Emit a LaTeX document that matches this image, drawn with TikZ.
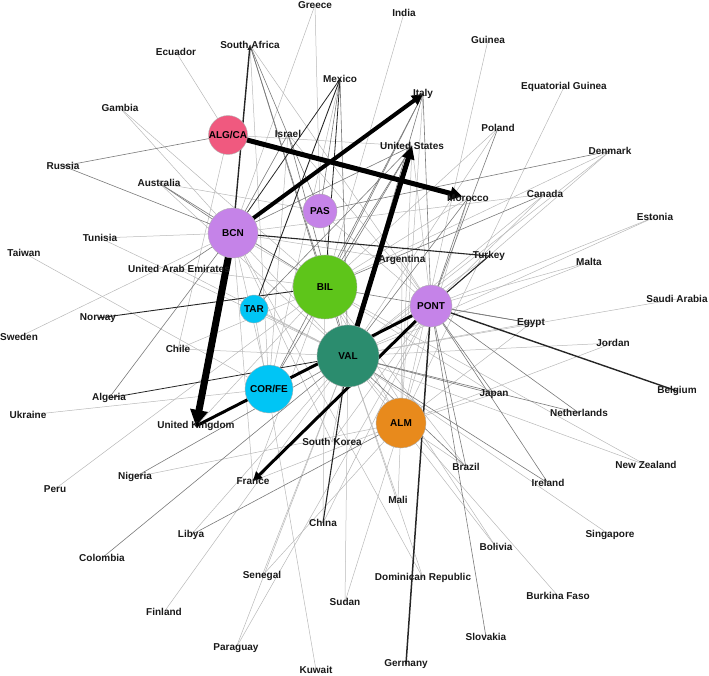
\documentclass[tikz,border=0pt]{standalone}
\usepackage{fontspec}
\setmainfont{Liberation Sans}
\usetikzlibrary{arrows.meta,backgrounds}
\definecolor{cAlg}{HTML}{F0597F}
\definecolor{cBcn}{HTML}{C583E8}
\definecolor{cBil}{HTML}{5EC51A}
\definecolor{cTar}{HTML}{00C5F5}
\definecolor{cVal}{HTML}{2B8C6E}
\definecolor{cAlm}{HTML}{E88A1C}
\tikzset{
  port/.style={circle, draw=gray!60, line width=0.4pt, inner sep=0pt},
  ctry/.style={inner sep=0pt, text=black!90},
  lt/.style={draw=black!28, line width=0.5pt},
  md/.style={draw=black!52, line width=0.6pt},
  dk/.style={draw=black!85, line width=1.1pt},
  heavy/.style={draw=black}
}
\begin{document}
\begin{tikzpicture}[x=1pt,y=-1pt,every node/.append style={font=\fontsize{10}{12}\selectfont\bfseries}]
\useasboundingbox (0,0) rectangle (709,675);
% countries
\node[ctry] (greece) at (315,5) {Greece};
\node[ctry] (india) at (404,13) {India};
\node[ctry] (safrica) at (250,45) {South Africa};
\node[ctry] (ecuador) at (176,52) {Ecuador};
\node[ctry] (guinea) at (488,40) {Guinea};
\node[ctry] (mexico) at (340,79) {Mexico};
\node[ctry] (italy) at (423,94) {Italy};
\node[ctry] (eqguinea) at (564,87) {Equatorial Guinea};
\node[ctry] (gambia) at (120,108) {Gambia};
\node[ctry] (israel) at (288,134) {Israel};
\node[ctry] (poland) at (498,128) {Poland};
\node[ctry] (usa) at (412,146) {United States};
\node[ctry] (denmark) at (610,151) {Denmark};
\node[ctry] (russia) at (63,166) {Russia};
\node[ctry] (australia) at (159,183) {Australia};
\node[ctry] (morocco) at (468,198) {Morocco};
\node[ctry] (canada) at (545,194) {Canada};
\node[ctry] (estonia) at (655,217) {Estonia};
\node[ctry] (tunisia) at (100,238) {Tunisia};
\node[ctry] (taiwan) at (24,253) {Taiwan};
\node[ctry] (turkey) at (489,256) {Turkey};
\node[ctry] (argentina) at (402,260) {Argentina};
\node[ctry] (uae) at (179,269) {United Arab Emirates};
\node[ctry] (malta) at (589,262) {Malta};
\node[ctry] (norway) at (98,318) {Norway};
\node[ctry] (saudi) at (677,299) {Saudi Arabia};
\node[ctry] (sweden) at (19,337) {Sweden};
\node[ctry] (egypt) at (531,323) {Egypt};
\node[ctry] (chile) at (178,349) {Chile};
\node[ctry] (jordan) at (613,343) {Jordan};
\node[ctry] (algeria) at (109,398) {Algeria};
\node[ctry] (belgium) at (677,391) {Belgium};
\node[ctry] (japan) at (494,394) {Japan};
\node[ctry] (ukraine) at (28,415) {Ukraine};
\node[ctry] (uk) at (196,426) {United Kingdom};
\node[ctry] (netherlands) at (579,413) {Netherlands};
\node[ctry] (skorea) at (332,442) {South Korea};
\node[ctry] (nigeria) at (135,477) {Nigeria};
\node[ctry] (brazil) at (466,467) {Brazil};
\node[ctry] (ireland) at (548,483) {Ireland};
\node[ctry] (nz) at (646,465) {New Zealand};
\node[ctry] (peru) at (55,489) {Peru};
\node[ctry] (france) at (253,481) {France};
\node[ctry] (mali) at (398,500) {Mali};
\node[ctry] (china) at (323,523) {China};
\node[ctry] (libya) at (191,535) {Libya};
\node[ctry] (singapore) at (610,535) {Singapore};
\node[ctry] (colombia) at (102,558) {Colombia};
\node[ctry] (bolivia) at (496,547) {Bolivia};
\node[ctry] (senegal) at (262,576) {Senegal};
\node[ctry] (domrep) at (423,578) {Dominican Republic};
\node[ctry] (sudan) at (345,602) {Sudan};
\node[ctry] (burkina) at (558,596) {Burkina Faso};
\node[ctry] (finland) at (164,612) {Finland};
\node[ctry] (slovakia) at (486,637) {Slovakia};
\node[ctry] (paraguay) at (236,648) {Paraguay};
\node[ctry] (kuwait) at (316,670) {Kuwait};
\node[ctry] (germany) at (406,664) {Germany};
% ports
\node[port, fill=cAlg, minimum size=34pt] (algca) at (228,135) {ALG/CA};
\node[port, fill=cBcn, minimum size=50pt] (bcn) at (233,233) {BCN};
\node[port, fill=cBcn, minimum size=34pt] (pas) at (320,211) {PAS};
\node[port, fill=cBil, minimum size=64pt] (bil) at (325,287) {BIL};
\node[port, fill=cTar, minimum size=28pt] (tar) at (254,309) {TAR};
\node[port, fill=cBcn, minimum size=42pt] (pont) at (431,306) {PONT};
\node[port, fill=cVal, minimum size=62pt] (val) at (348,356) {VAL};
\node[port, fill=cTar, minimum size=48pt] (corfe) at (269,389) {COR/FE};
\node[port, fill=cAlm, minimum size=50pt] (alm) at (401,423) {ALM};
\begin{scope}[on background layer]
% light edges
\foreach \a/\b in {greece/bcn, greece/pas, india/bil, guinea/alm, ecuador/algca, safrica/pont, safrica/corfe,
  italy/alm, usa/algca, usa/pont, usa/alm, morocco/alm, morocco/bil, poland/bil, poland/val,
  denmark/bil, denmark/pont, denmark/val, eqguinea/alm, canada/val, canada/pont, canada/bcn,
  estonia/pont, estonia/val, turkey/val, argentina/bcn, argentina/pont, argentina/alm,
  malta/val, malta/pont, saudi/val, egypt/val, egypt/alm, jordan/alm, jordan/val, japan/bil, japan/alm,
  nz/val, nz/bil, brazil/bil, brazil/alm, singapore/val, bolivia/val, bolivia/bil, burkina/val,
  domrep/val, domrep/bcn, mali/alm, mali/val, sudan/val, sudan/alm, kuwait/tar, paraguay/pont,
  paraguay/val, senegal/val, senegal/alm, china/pont, china/bil, finland/val, libya/val, peru/bil,
  nigeria/alm, ukraine/corfe, chile/algca, chile/bil, chile/val, sweden/bcn, taiwan/corfe,
  uae/val, uae/bil, tunisia/bcn, tunisia/val, australia/val, australia/pas, gambia/bcn, gambia/bil,
  israel/corfe, israel/pont, skorea/val, skorea/pont, skorea/bcn, france/bcn, france/alm, france/bil,
  uk/bil, mexico/corfe, bcn/val, bil/alm, pas/pont, bcn/bil, pas/val, tar/val, bcn/corfe}
  \draw[lt] (\a.center) -- (\b.center);
% medium edges
\foreach \a/\b in {algca/russia, safrica/bil, safrica/pas, safrica/val, mexico/pas, mexico/val,
  italy/val, italy/bil, italy/corfe, usa/bcn, usa/bil, usa/corfe, usa/tar, morocco/pont, morocco/val,
  algeria/bcn, japan/val, japan/pont, egypt/bil, egypt/pont, slovakia/pont, netherlands/val,
  netherlands/pont, brazil/val, brazil/pont, ireland/pont, ireland/val, australia/bcn, australia/bil,
  israel/bcn, israel/val, uae/bcn, nigeria/val, colombia/val, libya/alm, denmark/pas, canada/bil,
  poland/pont, bcn/russia, italy/pont}
  \draw[md] (\a.center) -- (\b.center);
% dark edges
\draw[dk] (bcn.center) -- (turkey.center);
\draw[dk, line width=1.4pt] (pont.center) -- (belgium.center);
\draw[dk, line width=1.5pt] (pont.center) -- (germany.center);
\draw[dk] (pont.center) -- (turkey.center);
\draw[dk] (val.center) -- (china.center);
\draw[dk, line width=0.9pt] (tar.center) -- (mexico.center);
\draw[dk, line width=0.9pt] (bil.center) -- (norway.center);
\draw[dk, line width=0.8pt] (val.center) -- (algeria.center);
\draw[dk, line width=0.8pt] (mexico.center) -- (bcn.center);
\draw[dk, line width=0.8pt] (mexico.center) -- (bil.center);
\draw[dk, line width=1.4pt, -{Triangle[length=5pt,width=4pt]}] (bcn.center) -- (safrica.center);
% heavy flows
\draw[heavy, line width=3pt] (pont.center) -- (uk.center);
\draw[heavy, line width=3pt, -{Triangle[length=9pt,width=9pt]}] (pont.center) -- (france.center);
\draw[heavy, line width=5pt, shorten >=6pt, -{Triangle[length=12pt,width=13pt]}] (algca.center) -- (morocco.center);
\draw[heavy, line width=4pt, -{Triangle[length=11pt,width=11pt]}] (bcn.center) -- (italy.center);
\draw[heavy, line width=5pt, -{Triangle[length=13pt,width=12pt]}] (val.center) -- (usa.center);
\draw[heavy, line width=7pt, -{Triangle[length=16pt,width=17pt]}] (bcn.center) -- (uk.center);
\end{scope}
\end{tikzpicture}
\end{document}
